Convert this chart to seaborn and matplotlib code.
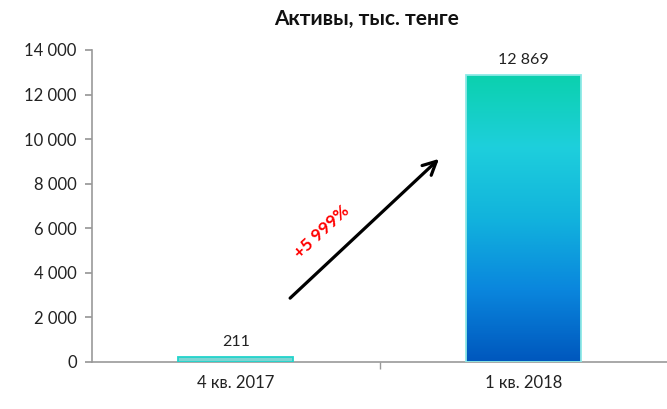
import numpy as np
import pandas as pd
import seaborn as sns
import matplotlib.pyplot as plt
from matplotlib.colors import LinearSegmentedColormap
from matplotlib.ticker import FuncFormatter

periods = ["4 кв. 2017", "1 кв. 2018"]
assets = [211, 12869]
title = "Активы, тыс. тенге"

df = pd.DataFrame({"Период": periods, "Активы": assets})

sns.set_theme(style="white")
plt.rcParams['font.family'] = ['Lato', 'DejaVu Sans']

fig = plt.figure(figsize=(6.67, 4.09), dpi=100)
ax = fig.add_axes([92 / 667, 47 / 409, 575 / 667, 312 / 409])

sns.barplot(data=df, x="Период", y="Активы", width=0.4, color="#6fe3df", ax=ax)
ax.set_xlim(-0.5, 1.5)
ax.set_ylim(0, 14000)

# градиент внутри высокого столбца
grad = LinearSegmentedColormap.from_list(
    "g", ["#0057bd", "#0a86dd", "#12b3dd", "#1ecfdc", "#0bd1ae"])
for p in ax.patches:
    x0, w, h = p.get_x(), p.get_width(), p.get_height()
    p.set_zorder(3)
    if h > 1000:
        img = ax.imshow(np.linspace(0, 1, 256).reshape(-1, 1), cmap=grad, origin="lower",
                        extent=[x0, x0 + w, 0, h], aspect="auto", zorder=2)
        img.set_clip_path(p)
        p.set_facecolor("none")
        p.set_edgecolor("#8ee9e6")
    else:
        p.set_edgecolor("#22d3cb")
    p.set_linewidth(1.3)
ax.set_xlim(-0.5, 1.5)
ax.set_ylim(0, 14000)

# подписи значений
for i, v in enumerate(assets):
    ax.text(i, v + 350, f"{v:,}".replace(",", " "), ha="center", va="bottom",
            fontsize=11.5, color="#222222")

# стрелка и прирост
growth = round((assets[1] / assets[0] - 1) * 100)
ax.annotate("", xy=(0.714, 9200), xytext=(0.182, 2780),
            arrowprops=dict(arrowstyle="->", color="black", lw=2.3, mutation_scale=24))
ax.text(0.30, 5850, f"+{growth:,}%".replace(",", " "), color="red", fontsize=12.5,
        fontweight="bold", rotation=43, ha="center", va="center")

ax.yaxis.set_major_formatter(FuncFormatter(lambda v, _: f"{int(v):,}".replace(",", " ")))
ax.set_yticks(range(0, 14001, 2000))
ax.tick_params(axis="y", labelsize=12, colors="#999999", length=5, direction="out",
               labelcolor="#222222", left=True, pad=6)
ax.tick_params(axis="x", labelsize=12, length=0, labelcolor="#222222", pad=9)
ax.set_xticks([0.5], minor=True)
ax.tick_params(axis="x", which="minor", length=5, color="#999999", bottom=True)
for s in ["top", "right"]:
    ax.spines[s].set_visible(False)
for s in ["left", "bottom"]:
    ax.spines[s].set_color("#999999")
    ax.spines[s].set_linewidth(1.2)
ax.set_xlabel("")
ax.set_ylabel("")

fig.text(367 / 667, 1 - 19 / 409, title, ha="center", va="center",
         fontsize=15, fontweight="bold", color="#111111")

fig.savefig("out.png", dpi=100)
